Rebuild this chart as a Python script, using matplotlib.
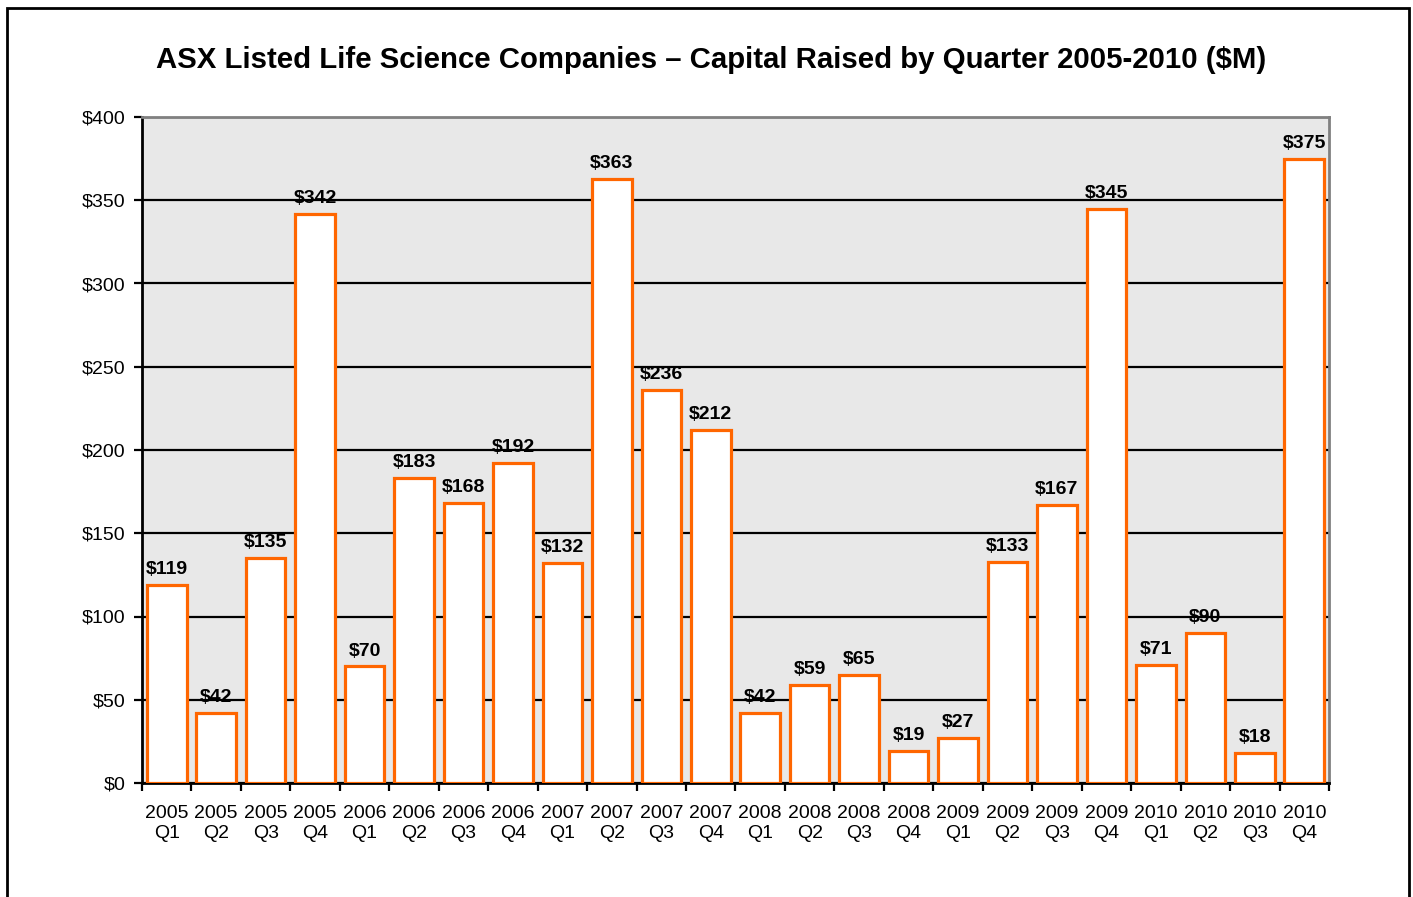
import matplotlib.pyplot as plt
import numpy as np
from matplotlib.patches import Rectangle
from matplotlib.ticker import FixedLocator, FuncFormatter

plt.rcParams['font.family'] = ['Liberation Sans', 'DejaVu Sans']

years = ['2005'] * 4 + ['2006'] * 4 + ['2007'] * 4 + ['2008'] * 4 + ['2009'] * 4 + ['2010'] * 4
quarters = ['Q1', 'Q2', 'Q3', 'Q4'] * 6
raised = [119, 42, 135, 342, 70, 183, 168, 192, 132, 363, 236, 212,
          42, 59, 65, 19, 27, 133, 167, 345, 71, 90, 18, 375]
labels = [y + '\n' + q for y, q in zip(years, quarters)]

fig = plt.figure(figsize=(14.13, 8.97), dpi=100)
ax = fig.add_axes([142 / 1413, 1 - 783 / 897, 1187 / 1413, 666 / 897])
ax.set_facecolor('#e8e8e8')

x = np.arange(len(raised))
bars = ax.bar(x, raised, width=0.8, color='white', edgecolor='#ff6600', linewidth=2.3, zorder=3)
ax.bar_label(bars, labels=['$%d' % v for v in raised], padding=5,
             fontsize=14, fontweight='bold', zorder=4)

ax.set_xlim(-0.5, len(raised) - 0.5)
ax.set_ylim(0, 400)
ax.set_yticks(range(0, 401, 50))
ax.yaxis.set_major_formatter(FuncFormatter(lambda v, p: '$%d' % v))
ax.grid(axis='y', color='black', linewidth=1.6, zorder=1)

ax.set_xticks(x)
ax.set_xticklabels(labels, fontsize=14, linespacing=1.25)
ax.xaxis.set_minor_locator(FixedLocator(np.arange(-0.5, len(raised), 1)))
ax.tick_params(axis='x', which='major', length=0, pad=16)
ax.tick_params(axis='x', which='minor', length=6, width=1.6, direction='out')
ax.tick_params(axis='y', length=6, width=1.6, labelsize=14, pad=6)

ax.spines['left'].set_linewidth(2)
ax.spines['bottom'].set_linewidth(2)
ax.spines['top'].set_color('#808080')
ax.spines['right'].set_color('#808080')
ax.spines['top'].set_linewidth(2)
ax.spines['right'].set_linewidth(2)

fig.text(0.503, 1 - 60 / 897,
         'ASX Listed Life Science Companies \u2013 Capital Raised by Quarter 2005-2010 ($M)',
         ha='center', va='center', fontsize=21.2, fontweight='bold')

fig.patches.append(Rectangle((7 / 1413, -0.05), 1402 / 1413, 1.05 - 8 / 897,
                             transform=fig.transFigure, fill=False,
                             edgecolor='black', linewidth=2))

fig.savefig('out.png', dpi=100)
